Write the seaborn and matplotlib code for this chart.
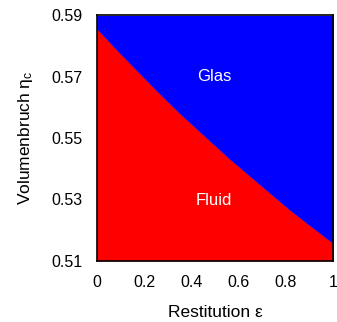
import matplotlib
matplotlib.use("Agg")
import matplotlib.pyplot as plt
import seaborn as sns
import pandas as pd

# Glass transition line: critical packing fraction vs. coefficient of restitution
restitution = [0.0, 0.10, 0.25, 0.35, 0.56, 0.82, 1.0]
eta_c = [0.5858, 0.5776, 0.5658, 0.5582, 0.5434, 0.5264, 0.5157]

x_ticks = [0, 0.2, 0.4, 0.6, 0.8, 1]
x_tick_labels = ["0", "0.2", "0.4", "0.6", "0.8", "1"]
y_ticks = [0.51, 0.53, 0.55, 0.57, 0.59]
y_tick_labels = ["0.51", "0.53", "0.55", "0.57", "0.59"]

sns.set_theme(style="white")
plt.rcParams["font.family"] = ["Liberation Sans", "DejaVu Sans"]
plt.rcParams["mathtext.fontset"] = "custom"
plt.rcParams["mathtext.rm"] = "Liberation Sans"
plt.rcParams["mathtext.it"] = "Liberation Sans"

df = pd.DataFrame({"eps": restitution, "eta": eta_c})

fig = plt.figure(figsize=(3.37, 3.22), dpi=100)
ax = fig.add_axes([0.287, 0.190, 0.702, 0.762])

y_lo, y_hi = 0.51, 0.59
ax.fill_between(df["eps"], y_lo, df["eta"], color="#ff0000", linewidth=0)
ax.fill_between(df["eps"], df["eta"], y_hi, color="#0000ff", linewidth=0)
sns.lineplot(data=df, x="eps", y="eta", ax=ax, color="#0000ff", linewidth=0.5)

ax.text(0.497, 0.570, "Glas", color="white", fontsize=12, ha="center", va="center")
ax.text(0.497, 0.5298, "Fluid", color="white", fontsize=12, ha="center", va="center")

ax.set_xlim(0, 1)
ax.set_ylim(y_lo, y_hi)
ax.set_xticks(x_ticks)
ax.set_xticklabels(x_tick_labels)
ax.set_yticks(y_ticks)
ax.set_yticklabels(y_tick_labels)
ax.tick_params(axis="both", length=0, labelsize=11.5, colors="black")
ax.tick_params(axis="x", pad=10)
ax.tick_params(axis="y", pad=10)

ax.set_xlabel("Restitution ε", fontsize=12.5, color="black", labelpad=11)
ax.set_ylabel(r"Volumenbruch $\mathrm{\eta}_\mathrm{c}$", fontsize=12.5, color="black", labelpad=12)

for s in ax.spines.values():
    s.set_visible(True)
    s.set_color("black")
    s.set_linewidth(1.2)

fig.savefig("out.png", dpi=100)
